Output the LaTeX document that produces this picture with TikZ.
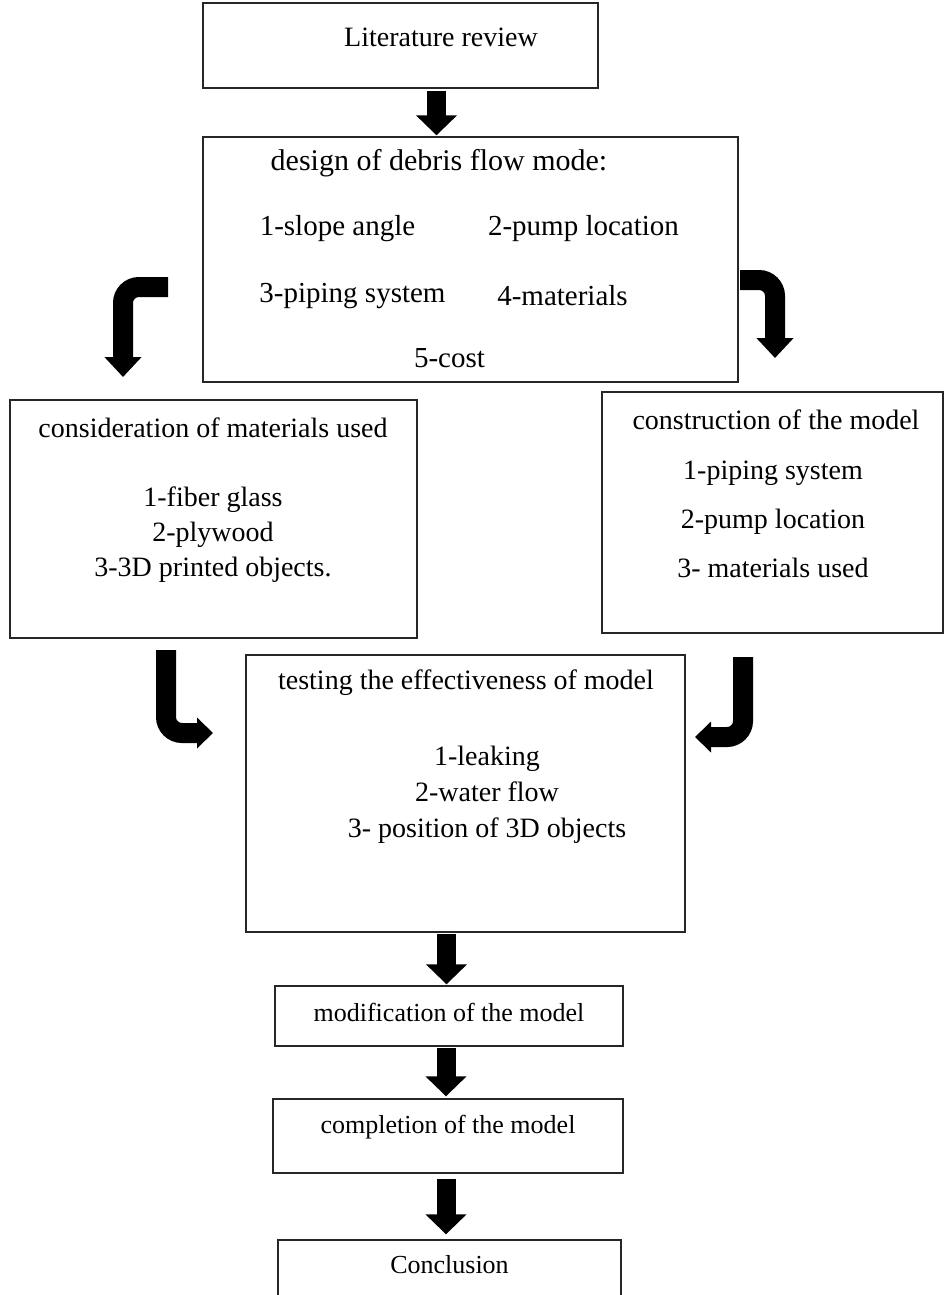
\documentclass[tikz,border=0pt]{standalone}
\usepackage{fontspec}
\setmainfont{Liberation Serif}
\usetikzlibrary{arrows.meta}

\begin{document}
\begin{tikzpicture}[x=1pt, y=-1pt,
        box/.style={draw=black!85, line width=1.4pt, inner sep=0pt},
        txt/.style={font=\fontsize{28}{35}\selectfont, align=center, inner sep=0pt},
        smalltxt/.style={font=\fontsize{26}{30}\selectfont, inner sep=0pt},
        blockarrow/.style={line width=19pt, -{Triangle[width=40pt,length=20pt]}},
        bentarrow/.style={line width=20pt, rounded corners=16pt, -{Triangle[width=36pt,length=20pt]}}]
        % Page size
        \clip (0,0) rectangle (945,1295);

        % Draw the boxes
        \node[box, minimum width=395pt, minimum height=85pt] (lit) at (400.5,45.5) {};
        \node[box, minimum width=535pt, minimum height=245pt] (design) at (470.5,259.5) {};
        \node[box, minimum width=407pt, minimum height=238pt] (consid) at (213.5,519) {};
        \node[box, minimum width=341pt, minimum height=241pt] (constr) at (772.5,512.5) {};
        \node[box, minimum width=439pt, minimum height=277pt] (testing) at (465.5,793.5) {};
        \node[box, minimum width=348pt, minimum height=60pt] (modif) at (449,1016) {};
        \node[box, minimum width=350pt, minimum height=74pt] (compl) at (448,1136) {};
        \node[box, minimum width=343pt, minimum height=80pt] (concl) at (449.5,1280) {};

        % Texts of the boxes
        \node[txt] (littext) at (441,37) {Literature review};

        \node[txt, font=\fontsize{30}{35}\selectfont] (designtitle) at (439,163) {design of debris flow mode:};
        \node[txt, font=\fontsize{29}{35}\selectfont] (slope) at (337.5,229) {1-slope angle};
        \node[txt, font=\fontsize{29}{35}\selectfont] (pump) at (583.5,229) {2-pump location};
        \node[txt, font=\fontsize{29}{35}\selectfont] (piping) at (352.5,296) {3-piping system};
        \node[txt, font=\fontsize{29}{35}\selectfont] (mater) at (562.5,296) {4-materials};
        \node[txt, font=\fontsize{29}{35}\selectfont] (cost) at (449.5,358) {5-cost};

        \node[txt] (considtitle) at (213,428) {consideration of materials used};
        \node[txt] (consitems) at (213,535) {1-fiber glass\\2-plywood\\3-3D printed objects.};

        \node[txt] (constrtitle) at (776,420) {construction of the model};
        \node[txt, font=\fontsize{28}{49}\selectfont] (constritems) at (773,519) {1-piping system\\2-pump location\\3- materials used};

        \node[txt] (testtitle) at (466,683) {testing the effectiveness of model};
        \node[txt, font=\fontsize{28}{36}\selectfont] (testitems) at (487,795) {1-leaking\\2-water flow\\3- position of 3D objects};

        \node[smalltxt] (modiftext) at (449,1012) {modification of the model};
        \node[smalltxt] (compltext) at (448,1127) {completion of the model};
        \node[smalltxt] (concltext) at (449.5,1265) {Conclusion};

        % Straight arrows
        \draw[blockarrow, shorten <=2pt, shorten >=1pt] ([xshift=36pt]lit.south) -- ([xshift=36pt]lit.south |- design.north);
        \draw[blockarrow, shorten <=1pt, shorten >=1pt] ([xshift=-19pt]testing.south) -- ([xshift=-19pt]testing.south |- modif.north);
        \draw[blockarrow, shorten <=1pt, shorten >=2pt] ([xshift=-3pt]modif.south) -- ([xshift=-3pt]modif.south |- compl.north);
        \draw[blockarrow, shorten <=5pt, shorten >=5pt] ([xshift=-2pt]compl.south) -- ([xshift=-2pt]compl.south |- concl.north);

        % Bent arrows
        \coordinate (lt1) at (168,287);
        \coordinate (lt2) at (123,377);
        \coordinate (rt1) at (740,280);
        \coordinate (rt2) at (775,358);
        \coordinate (lb1) at (166,650);
        \coordinate (lb2) at (213,733);
        \coordinate (rb1) at (743,657);
        \coordinate (rb2) at (695,737);
        \draw[bentarrow] (lt1) -| (lt2);
        \draw[bentarrow] (rt1) -| (rt2);
        \draw[bentarrow, -{Triangle[width=30pt,length=16pt]}] (lb1) |- (lb2);
        \draw[bentarrow, -{Triangle[width=30pt,length=16pt]}] (rb1) |- (rb2);
\end{tikzpicture}
\end{document}
